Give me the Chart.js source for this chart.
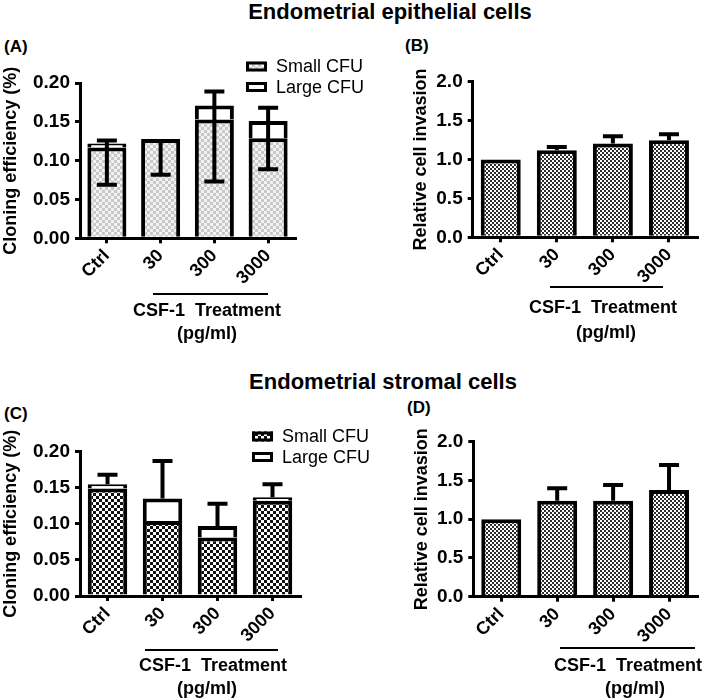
<!DOCTYPE html>
<html lang="en">
<head>
<meta charset="UTF-8">
<title>CSF-1 treatment</title>
<script src="https://cdn.jsdelivr.net/npm/chart.js"></script>
<style>
  body { margin: 0; background: #fff; font-family: "Liberation Sans", Arial, sans-serif; }
  #wrap { position: relative; width: 709px; height: 698px; overflow: hidden; }
  canvas { position: absolute; }
  .txt { position: absolute; white-space: pre; color: #000; line-height: 1; }
  .title { font-weight: bold; font-size: 22px; transform: translateX(-50%); }
  .panel { font-weight: bold; font-size: 17px; }
  .treat { font-weight: bold; font-size: 18px; transform: translateX(-50%); }
  .bar { position: absolute; height: 0; border-top: 2px solid #000; }
</style>
</head>
<body>
<div id="wrap">
  <div class="txt title" style="left:390px;top:1px">Endometrial epithelial cells</div>
  <div class="txt title" style="left:383px;top:371px">Endometrial stromal cells</div>

  <div class="txt panel" style="left:4px;top:38px">(A)</div>
  <div class="txt panel" style="left:405px;top:37px">(B)</div>
  <div class="txt panel" style="left:4px;top:405px">(C)</div>
  <div class="txt panel" style="left:407px;top:399px">(D)</div>

  <canvas id="chartB" width="359" height="260" style="left:350px;top:40px"></canvas>
  <canvas id="chartD" width="359" height="260" style="left:350px;top:400px"></canvas>
  <canvas id="chartA" width="380" height="260" style="left:0;top:40px"></canvas>
  <canvas id="chartC" width="380" height="260" style="left:0;top:400px"></canvas>

  <div class="bar" style="left:153px;top:293px;width:115px"></div>
  <div class="txt treat" style="left:207px;top:301px">CSF-1  Treatment</div>
  <div class="txt treat" style="left:207px;top:324px">(pg/ml)</div>

  <div class="bar" style="left:550px;top:286px;width:113px"></div>
  <div class="txt treat" style="left:603px;top:298px">CSF-1  Treatment</div>
  <div class="txt treat" style="left:606px;top:323px">(pg/ml)</div>

  <div class="bar" style="left:145px;top:649px;width:133px"></div>
  <div class="txt treat" style="left:213px;top:656px">CSF-1  Treatment</div>
  <div class="txt treat" style="left:207px;top:679px">(pg/ml)</div>

  <div class="bar" style="left:560px;top:647px;width:135px"></div>
  <div class="txt treat" style="left:628px;top:656px">CSF-1  Treatment</div>
  <div class="txt treat" style="left:635px;top:679px">(pg/ml)</div>
</div>

<script>
// categories shared by all four panels
const categories = ['Ctrl', '30', '300', '3000'];

// (A) epithelial cells, cloning efficiency (%)
const epiSmall = [0.117, 0.128, 0.153, 0.129];
const epiLarge = [0.005, 0.000, 0.018, 0.022];
const epiErrHi = [0.126, null, 0.189, 0.168];
const epiErrLo = [0.069, 0.082, 0.073, 0.089];

// (B) epithelial cells, relative invasion
const epiInvasion = [1.0, 1.12, 1.205, 1.247];
const epiInvErr = [null, 1.162, 1.30, 1.324];

// (C) stromal cells, cloning efficiency (%)
const strSmall = [0.149, 0.104, 0.081, 0.132];
const strLarge = [0.006, 0.031, 0.016, 0.005];
const strErrHi = [0.168, 0.187, 0.128, 0.155];
const strErrLo = [null, null, null, null];

// (D) stromal cells, relative invasion
const strInvasion = [1.0, 1.239, 1.239, 1.377];
const strInvErr = [null, 1.398, 1.441, 1.699];

const effTicks = [0, 0.05, 0.10, 0.15, 0.20];
const invTicks = [0, 0.5, 1.0, 1.5, 2.0];

const FONT = '"Liberation Sans", Arial, sans-serif';

function checker(cell, dark, light) {
  const c = document.createElement('canvas');
  c.width = c.height = cell * 2;
  const g = c.getContext('2d');
  g.fillStyle = light;
  g.fillRect(0, 0, cell * 2, cell * 2);
  g.fillStyle = dark;
  g.fillRect(0, 0, cell, cell);
  g.fillRect(cell, cell, cell, cell);
  return g.createPattern(c, 'repeat');
}

const lightFill = checker(3, '#c8c8c8', '#f2f2f2');
const darkFill = checker(2, '#2e2e2e', '#ffffff');
const blackFill = checker(3, '#111111', '#ffffff');

// error bars, drawn through the chart scales
function errorBars(hi, lo) {
  return {
    id: 'errorBars',
    afterDatasetsDraw(chart) {
      const ctx = chart.ctx;
      const x = chart.scales.x, y = chart.scales.y;
      ctx.save();
      ctx.strokeStyle = '#000';
      ctx.lineWidth = 4;
      hi.forEach((h, i) => {
        const l = lo ? lo[i] : null;
        if (h == null && l == null) return;
        const top = chart.data.datasets.reduce((s, d) => s + (d.data[i] || 0), 0);
        const cx = x.getPixelForValue(i);
        const y1 = y.getPixelForValue(h == null ? top : h);
        const y2 = y.getPixelForValue(l == null ? top : l);
        ctx.beginPath();
        ctx.moveTo(cx, y1);
        ctx.lineTo(cx, y2);
        if (h != null) { ctx.moveTo(cx - 10, y1); ctx.lineTo(cx + 10, y1); }
        if (l != null) { ctx.moveTo(cx - 10, y2); ctx.lineTo(cx + 10, y2); }
        ctx.stroke();
      });
      ctx.restore();
    }
  };
}

// small legend with boxes, placed at the top right of the plot
function boxLegend(bx, by) {
  return {
    id: 'boxLegend',
    afterDraw(chart) {
      const ctx = chart.ctx;
      ctx.save();
      ctx.font = '18px ' + FONT;
      ctx.textBaseline = 'middle';
      chart.data.datasets.forEach((d, i) => {
        const yy = by + i * 20.5;
        ctx.fillStyle = d.backgroundColor;
        ctx.fillRect(bx, yy - 5, 21, 10);
        ctx.strokeStyle = '#000';
        ctx.lineWidth = 3;
        ctx.strokeRect(bx + 1.5, yy - 5 + 1.5, 18, 7);
        ctx.fillStyle = '#000';
        ctx.fillText(d.label, bx + 30, yy + 1);
      });
      ctx.restore();
    }
  };
}

function makeChart(id, datasets, cfg) {
  return new Chart(document.getElementById(id), {
    type: 'bar',
    data: { labels: categories, datasets: datasets },
    options: {
      responsive: false,
      animation: false,
      events: [],
      layout: { padding: cfg.padding },
      plugins: { legend: { display: false }, tooltip: { enabled: false } },
      datasets: {
        bar: {
          borderColor: '#000',
          borderWidth: 4,
          categoryPercentage: 1,
          barPercentage: cfg.barPct
        }
      },
      scales: {
        x: {
          stacked: true,
          offset: true,
          grid: { display: true, drawOnChartArea: false, offset: false, color: '#000', tickLength: 5, lineWidth: 3 },
          border: { display: true, color: '#000', width: 3 },
          ticks: {
            minRotation: 45, maxRotation: 45, padding: 2, color: '#000',
            font: { family: FONT, size: 18, weight: 'bold' }
          },
          afterFit: s => { s.height = cfg.xHeight; s.paddingLeft = 0; s.paddingRight = 0; }
        },
        y: {
          stacked: true,
          min: 0,
          max: cfg.ticks[cfg.ticks.length - 1],
          afterBuildTicks: s => { s.ticks = cfg.ticks.map(v => ({ value: v })); },
          grid: { display: true, drawOnChartArea: false, color: '#000', tickLength: 5, lineWidth: 3 },
          border: { display: true, color: '#000', width: 3 },
          ticks: {
            padding: 5, color: '#000',
            font: { family: FONT, size: 19, weight: 'bold' },
            callback: v => v.toFixed(cfg.dec)
          },
          title: {
            display: true, text: cfg.yTitle, color: '#000', padding: 0,
            font: { family: FONT, size: 18, weight: 'bold' }
          },
          afterFit: s => { s.width = cfg.yWidth; }
        }
      }
    },
    plugins: cfg.plugins
  });
}

makeChart('chartA', [
  { label: 'Small CFU', data: epiSmall, backgroundColor: lightFill },
  { label: 'Large CFU', data: epiLarge, backgroundColor: '#ffffff' }
], {
  padding: { left: 0, top: 43, right: 85, bottom: 0 },
  barPct: 0.726, xHeight: 61.7, yWidth: 80, ticks: effTicks, dec: 2,
  yTitle: 'Cloning efficiency (%)',
  plugins: [errorBars(epiErrHi, epiErrLo), boxLegend(246, 26.5)]
});

makeChart('chartB', [
  { label: 'Invasion', data: epiInvasion, backgroundColor: darkFill }
], {
  padding: { left: 60.7, top: 41.7, right: 12, bottom: 0 },
  barPct: 0.713, xHeight: 62.7, yWidth: 62, ticks: invTicks, dec: 1,
  yTitle: 'Relative cell invasion',
  plugins: [errorBars(epiInvErr, null)]
});

makeChart('chartC', [
  { label: 'Small CFU', data: strSmall, backgroundColor: blackFill },
  { label: 'Large CFU', data: strLarge, backgroundColor: '#ffffff' }
], {
  padding: { left: 0, top: 51.7, right: 80, bottom: 0 },
  barPct: 0.718, xHeight: 64, yWidth: 80, ticks: effTicks, dec: 2,
  yTitle: 'Cloning efficiency (%)',
  plugins: [errorBars(strErrHi, strErrLo), boxLegend(252, 36.5)]
});

makeChart('chartD', [
  { label: 'Invasion', data: strInvasion, backgroundColor: darkFill }
], {
  padding: { left: 61.3, top: 41.7, right: 12, bottom: 0 },
  barPct: 0.715, xHeight: 63.3, yWidth: 62, ticks: invTicks, dec: 1,
  yTitle: 'Relative cell invasion',
  plugins: [errorBars(strInvErr, null)]
});
</script>
</body>
</html>
